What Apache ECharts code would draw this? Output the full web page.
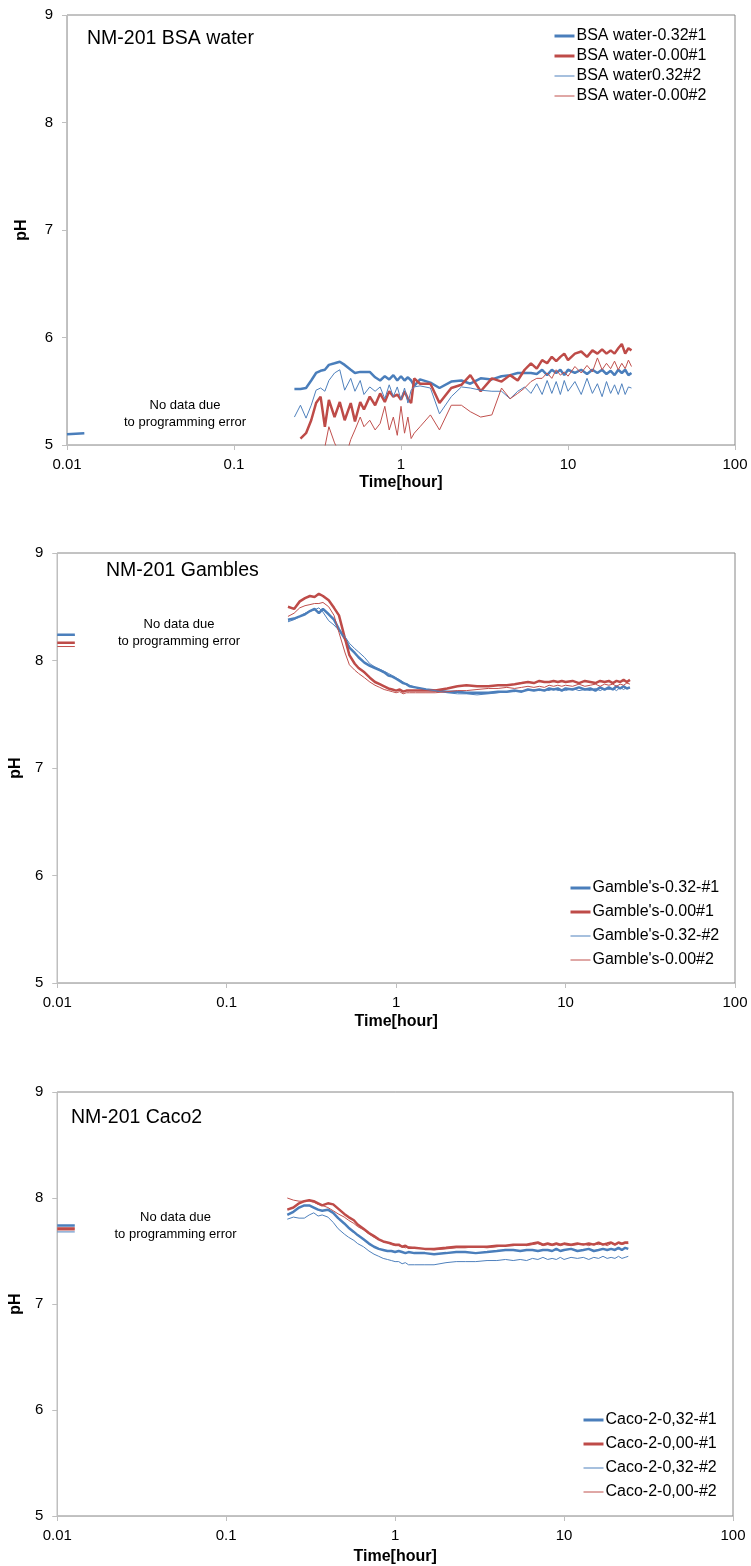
<!DOCTYPE html>
<html>
<head>
<meta charset="utf-8">
<script src="https://cdn.jsdelivr.net/npm/echarts@6/dist/echarts.min.js"></script>
<style>html,body{margin:0;padding:0;background:#fff}#main{width:751px;height:1566px}</style>
</head>
<body>
<div id="main"></div>
<script>
// ---- shared time points (hours) ----
const T = [0.23,0.25,0.27,0.29,0.31,0.33,0.35,0.37,0.40,0.43,0.46,0.50,0.53,0.57,0.60,0.65,0.70,0.75,0.80,0.85,0.90,0.95,1.00,1.05,1.10,1.15,1.20,1.30,1.50,1.70,2.00,2.30,2.60,3.00,3.50,4.00,4.50,5.00,5.50,6.00,6.50,7.00,7.50,8.00,8.50,9.00,9.50,10,11,12,13,14,15,16,17,18,19,20,21,22,23,24];
const stubT = [0.01, 0.0127];
const xTickLabels = {'-2':'0.01','-1':'0.1','0':'1','1':'10','2':'100'};
const yTicks = [5,6,7,8,9];

// ---- Chart 1: BSA water ----
const bsaNames = ['BSA water-0.32#1','BSA water-0.00#1','BSA water0.32#2','BSA water-0.00#2'];
const bsaB1 = [5.52,5.52,5.53,5.60,5.67,5.69,5.70,5.745,5.76,5.775,5.745,5.70,5.67,5.68,5.68,5.68,5.63,5.60,5.64,5.61,5.65,5.60,5.64,5.60,5.63,5.60,5.55,5.61,5.58,5.53,5.59,5.60,5.57,5.62,5.61,5.64,5.65,5.67,5.67,5.67,5.66,5.70,5.65,5.70,5.67,5.70,5.65,5.70,5.67,5.70,5.66,5.70,5.67,5.70,5.66,5.69,5.65,5.70,5.67,5.70,5.65,5.67];
const bsaR1 = [null,5.06,5.11,5.23,5.39,5.45,5.17,5.42,5.26,5.40,5.23,5.39,5.22,5.40,5.33,5.45,5.37,5.48,5.40,5.50,5.45,5.47,5.42,5.50,5.43,5.39,5.62,5.57,5.57,5.39,5.53,5.56,5.65,5.50,5.62,5.59,5.65,5.60,5.70,5.76,5.71,5.79,5.76,5.82,5.78,5.82,5.85,5.79,5.85,5.87,5.82,5.88,5.85,5.89,5.85,5.88,5.85,5.90,5.94,5.85,5.90,5.88];
const bsaB2 = [5.26,5.37,5.25,5.37,5.51,5.53,5.50,5.60,5.67,5.70,5.51,5.62,5.50,5.60,5.47,5.54,5.50,5.54,5.43,5.56,5.45,5.54,5.42,5.53,5.39,5.51,5.54,5.55,5.53,5.29,5.45,5.54,5.53,5.51,5.50,5.50,5.43,5.50,5.54,5.48,5.57,5.47,5.60,5.48,5.59,5.47,5.60,5.50,5.59,5.47,5.62,5.48,5.57,5.45,5.59,5.48,5.56,5.47,5.57,5.47,5.54,5.53];
const bsaR2 = [4.85,4.90,4.88,4.92,4.95,4.92,4.98,5.17,5.02,4.92,4.86,5.05,5.14,5.26,5.17,5.23,5.14,5.20,5.36,5.14,5.26,5.09,5.36,5.11,5.26,5.06,5.11,5.17,5.28,5.14,5.37,5.37,5.31,5.26,5.28,5.53,5.43,5.48,5.53,5.59,5.62,5.62,5.67,5.62,5.70,5.65,5.68,5.64,5.73,5.67,5.74,5.68,5.81,5.70,5.76,5.71,5.78,5.70,5.76,5.71,5.79,5.73];
const bsaStubB1 = [5.10, 5.11];

// ---- Chart 2: Gambles ----
const gamNames = ["Gamble's-0.32-#1","Gamble's-0.00#1","Gamble's-0.32-#2","Gamble's-0.00#2"];
const gamB1 = [8.38,8.39,8.41,8.43,8.46,8.48,8.44,8.48,8.43,8.38,8.29,8.20,8.12,8.07,8.03,7.98,7.95,7.93,7.91,7.89,7.86,7.85,7.83,7.81,7.79,7.78,7.76,7.75,7.73,7.72,7.71,7.71,7.70,7.70,7.70,7.71,7.71,7.72,7.71,7.73,7.72,7.73,7.72,7.74,7.73,7.74,7.72,7.74,7.73,7.75,7.73,7.74,7.72,7.75,7.73,7.75,7.73,7.76,7.74,7.76,7.74,7.75];
const gamR1 = [8.50,8.48,8.55,8.58,8.60,8.59,8.62,8.60,8.56,8.49,8.42,8.20,8.05,7.97,7.93,7.89,7.84,7.80,7.78,7.76,7.74,7.73,7.72,7.73,7.71,7.72,7.72,7.72,7.72,7.72,7.74,7.76,7.77,7.76,7.76,7.77,7.77,7.78,7.79,7.80,7.79,7.81,7.80,7.80,7.81,7.80,7.81,7.80,7.81,7.79,7.81,7.80,7.79,7.81,7.80,7.81,7.79,7.81,7.80,7.82,7.80,7.82];
const gamB2 = [8.36,8.38,8.41,8.44,8.46,8.47,8.49,8.45,8.37,8.33,8.28,8.22,8.16,8.11,8.08,8.03,7.97,7.94,7.92,7.90,7.88,7.86,7.84,7.82,7.80,7.78,7.77,7.75,7.73,7.72,7.70,7.69,7.69,7.68,7.69,7.70,7.71,7.71,7.72,7.72,7.73,7.72,7.73,7.72,7.74,7.72,7.73,7.72,7.74,7.72,7.73,7.72,7.74,7.72,7.74,7.73,7.74,7.72,7.75,7.73,7.75,7.74];
const gamR2 = [8.41,8.44,8.49,8.51,8.52,8.53,8.53,8.54,8.50,8.42,8.26,8.07,7.96,7.91,7.88,7.84,7.80,7.77,7.75,7.73,7.72,7.71,7.70,7.71,7.69,7.70,7.70,7.70,7.70,7.70,7.71,7.72,7.72,7.73,7.74,7.74,7.75,7.74,7.75,7.76,7.75,7.76,7.75,7.77,7.76,7.77,7.76,7.77,7.76,7.78,7.76,7.77,7.78,7.76,7.78,7.77,7.78,7.76,7.78,7.77,7.79,7.78];
const gamStub = [[8.24,8.24],[8.165,8.165],[8.235,8.235],[8.13,8.13]];

// ---- Chart 3: Caco2 ----
const cacoNames = ['Caco-2-0,32-#1','Caco-2-0,00-#1','Caco-2-0,32-#2','Caco-2-0,00-#2'];
const cacoB1 = [7.84,7.87,7.91,7.93,7.93,7.91,7.89,7.88,7.89,7.86,7.81,7.76,7.72,7.68,7.65,7.61,7.57,7.54,7.52,7.51,7.50,7.50,7.49,7.50,7.49,7.48,7.49,7.48,7.48,7.47,7.48,7.49,7.49,7.48,7.49,7.50,7.51,7.51,7.50,7.51,7.51,7.50,7.51,7.51,7.50,7.52,7.50,7.51,7.52,7.50,7.51,7.52,7.50,7.51,7.52,7.51,7.52,7.51,7.53,7.51,7.53,7.52];
const cacoR1 = [7.89,7.91,7.95,7.97,7.98,7.97,7.95,7.93,7.95,7.94,7.90,7.85,7.82,7.79,7.75,7.71,7.67,7.64,7.61,7.59,7.58,7.57,7.56,7.56,7.54,7.55,7.53,7.53,7.52,7.52,7.53,7.54,7.54,7.54,7.54,7.55,7.55,7.56,7.56,7.56,7.57,7.58,7.56,7.57,7.56,7.57,7.56,7.57,7.56,7.57,7.56,7.57,7.56,7.58,7.56,7.57,7.58,7.56,7.58,7.57,7.58,7.58];
const cacoB2 = [7.80,7.82,7.81,7.81,7.84,7.86,7.83,7.84,7.82,7.77,7.71,7.66,7.63,7.60,7.57,7.54,7.50,7.47,7.45,7.43,7.42,7.41,7.40,7.40,7.38,7.39,7.37,7.37,7.37,7.37,7.39,7.40,7.40,7.40,7.41,7.41,7.42,7.41,7.42,7.41,7.43,7.42,7.44,7.42,7.43,7.42,7.44,7.42,7.44,7.43,7.44,7.42,7.44,7.43,7.45,7.43,7.44,7.43,7.45,7.43,7.44,7.45];
const cacoR2 = [8.00,7.98,7.97,7.97,7.97,7.96,7.94,7.93,7.91,7.88,7.85,7.82,7.79,7.76,7.73,7.70,7.66,7.63,7.61,7.59,7.58,7.56,7.55,7.55,7.54,7.53,7.54,7.53,7.52,7.51,7.52,7.53,7.53,7.54,7.53,7.54,7.55,7.55,7.56,7.55,7.56,7.57,7.55,7.56,7.55,7.56,7.55,7.56,7.55,7.56,7.57,7.55,7.57,7.56,7.57,7.55,7.57,7.56,7.57,7.56,7.57,7.57];
const cacoStub = [[7.74,7.74],[7.705,7.705],[7.68,7.68],[7.72,7.72]];

// ---- styling ----
const FONT = 'Liberation Sans, Arial, sans-serif';
const BLUE1 = '#4A7EBB', RED1 = '#BE4B48', BLUE2 = '#4F81BD', RED2 = '#C0504D';
const styles = [
  {color: BLUE1, width: 2.5},
  {color: RED1, width: 2.5},
  {color: BLUE2, width: 1},
  {color: RED2, width: 1}
];

function pairs(xs, ys) {
  const out = [];
  for (let i = 0; i < xs.length; i++) if (ys[i] != null) out.push([xs[i], ys[i]]);
  return out;
}

const grids = [
  {left: 67, top: 15, width: 668, height: 430},
  {left: 56, top: 553, width: 679, height: 430},
  {left: 52, top: 1092, width: 681, height: 424}
].map(g => Object.assign(g, {show: true, borderColor: '#868686', borderWidth: 1, backgroundColor: 'transparent'}));

const xNameGaps = [30, 31, 33];
const yNameGaps = [37, 26, 22];

const xAxes = grids.map((g, i) => ({
  type: 'log', logBase: 10, min: 0.01, max: 100, gridIndex: i,
  name: 'Time[hour]', nameLocation: 'middle', nameGap: xNameGaps[i],
  nameTextStyle: {fontWeight: 'bold', fontSize: 16, color: '#000', fontFamily: FONT},
  axisLine: {show: true, lineStyle: {color: '#bfbfbf', width: 1}},
  axisTick: {show: true, inside: false, length: 5, lineStyle: {color: '#bfbfbf'}},
  minorTick: {show: false},
  splitLine: {show: false},
  axisLabel: {fontSize: 15, color: '#000', fontFamily: FONT, margin: 12,
    formatter: v => xTickLabels[String(Math.round(Math.log10(v)))] || ''}
}));

const yAxes = grids.map((g, i) => ({
  type: 'value', min: yTicks[0], max: yTicks[yTicks.length - 1], interval: 1, gridIndex: i,
  name: 'pH', nameLocation: 'middle', nameGap: yNameGaps[i], nameRotate: 90,
  nameTextStyle: {fontWeight: 'bold', fontSize: 16, color: '#000', fontFamily: FONT},
  axisLine: {show: true, lineStyle: {color: '#bfbfbf', width: 1}},
  axisTick: {show: true, inside: false, length: 5, lineStyle: {color: '#bfbfbf'}},
  splitLine: {show: false},
  axisLabel: {fontSize: 15, color: '#000', fontFamily: FONT, margin: 14}
}));

const charts = [
  {names: bsaNames, vals: [bsaB1, bsaR1, bsaB2, bsaR2], stubs: [bsaStubB1, null, null, null]},
  {names: gamNames, vals: [gamB1, gamR1, gamB2, gamR2], stubs: gamStub},
  {names: cacoNames, vals: [cacoB1, cacoR1, cacoB2, cacoR2], stubs: cacoStub}
];

const series = [];
charts.forEach((c, gi) => {
  c.vals.forEach((v, si) => {
    const st = styles[si];
    series.push({
      type: 'line', name: c.names[si], xAxisIndex: gi, yAxisIndex: gi,
      data: pairs(T, v), symbol: 'none', showSymbol: false, clip: true,
      lineStyle: {color: st.color, width: st.width}, itemStyle: {color: st.color},
      emphasis: {disabled: true}, z: 2 + si
    });
  });
  c.stubs.forEach((s, si) => {
    if (!s) return;
    const st = styles[si];
    series.push({
      type: 'line', name: c.names[si] + ' (start)', xAxisIndex: gi, yAxisIndex: gi,
      data: pairs(stubT, s), symbol: 'none', showSymbol: false, clip: true,
      lineStyle: {color: st.color, width: st.width}, itemStyle: {color: st.color},
      emphasis: {disabled: true}, z: 2 + si
    });
  });
});

const legendPos = [
  {left: 553, top: 28, itemGap: 4},
  {left: 569, top: 880, itemGap: 8},
  {left: 582, top: 1412, itemGap: 8}
];
const legends = charts.map((c, i) => ({
  orient: 'vertical', left: legendPos[i].left, top: legendPos[i].top,
  itemGap: legendPos[i].itemGap, itemWidth: 20, itemHeight: 12,
  selectedMode: false, padding: 0,
  itemStyle: {opacity: 0},
  textStyle: {fontSize: 16, color: '#000', fontFamily: FONT, padding: [0, 0, 0, -3]},
  data: c.names.map((n, si) => ({
    name: n,
    itemStyle: {opacity: 0},
    lineStyle: {width: styles[si].width === 1 ? 1 : 3, color: styles[si].color}
  }))
}));

const titles = [
  {x: 87, y: 39, text: 'NM-201 BSA water'},
  {x: 106, y: 571, text: 'NM-201 Gambles'},
  {x: 71, y: 1118, text: 'NM-201 Caco2'}
];
const notes = [
  {x: 185, y: 413.5},
  {x: 179, y: 633},
  {x: 175.5, y: 1225.5}
];
const graphic = [];
titles.forEach(t => graphic.push({
  type: 'text', x: t.x, y: t.y, silent: true,
  style: {text: t.text, fontSize: 19.5, fontFamily: FONT, fill: '#000', align: 'left', verticalAlign: 'middle'}
}));
notes.forEach(n => graphic.push({
  type: 'text', x: n.x, y: n.y, silent: true,
  style: {text: 'No data due\nto programming error', fontSize: 13, lineHeight: 17, fontFamily: FONT, fill: '#000', align: 'center', verticalAlign: 'middle'}
}));

const chart = echarts.init(document.getElementById('main'), null, {renderer: 'canvas'});
chart.setOption({
  backgroundColor: '#fff',
  animation: false,
  grid: grids,
  xAxis: xAxes,
  yAxis: yAxes,
  legend: legends,
  series: series,
  graphic: graphic
});
</script>
</body>
</html>
